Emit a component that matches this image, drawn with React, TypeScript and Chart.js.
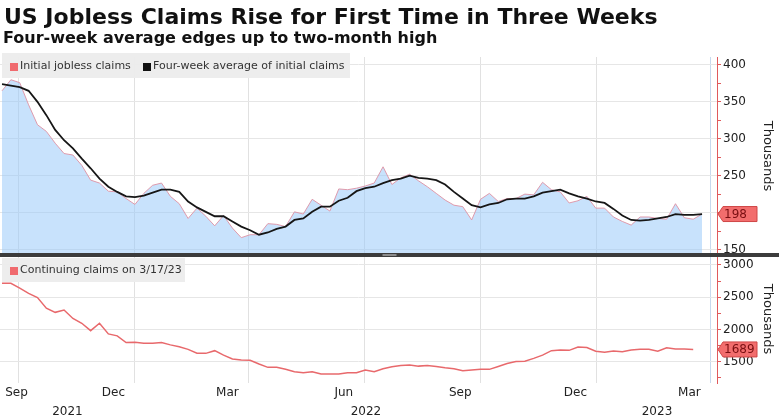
import React, { useEffect, useRef } from 'react';
import { Chart, registerables } from 'chart.js';

Chart.register(...registerables);

// ---------------- data ----------------
const START_DATE = '2021-09-18'; // first weekly observation (week ending)

const initialClaims = [
  365, 380, 376, 346, 319, 310, 294, 280, 278, 264,
  244, 240, 229, 228, 219, 211, 226, 237, 240, 222,
  212, 192, 206, 195, 182, 196, 179, 166, 170, 170,
  185, 184, 181, 201, 198, 218, 210, 202, 232, 231,
  233, 236, 240, 262, 238, 247, 252, 243, 235, 226,
  217, 210, 208, 190, 218, 226, 215, 219, 219, 225,
  224, 241, 231, 228, 213, 216, 222, 206, 206, 194,
  188, 183, 194, 194, 192, 191, 212, 193, 191, 198,
];

const fourWeekAvg = [
  374, 372, 370, 365, 350, 332, 312, 298, 287, 273,
  260, 246, 235, 228, 222, 221, 223, 227, 231, 231,
  228, 215, 207, 201, 195, 195, 188, 181, 176, 170,
  173, 178, 181, 190, 192, 201, 208, 208, 216, 220,
  229, 233, 235, 240, 244, 246, 250, 247, 246, 244,
  238, 228, 219, 210, 207, 211, 213, 218, 219, 219,
  222, 227, 229, 231, 226, 222, 219, 215, 213, 205,
  196, 190, 189, 190, 192, 194, 198, 197, 197, 198,
];

const continuingClaims = [
  2715, 2715, 2640, 2560, 2495, 2330, 2265, 2300, 2170, 2095,
  1980, 2095, 1930, 1900, 1795, 1800, 1785, 1785, 1795, 1760,
  1730, 1690, 1630, 1628, 1670, 1600, 1540, 1525, 1520, 1463,
  1411, 1411, 1380, 1344, 1328, 1344, 1307, 1307, 1307, 1328,
  1328, 1370, 1344, 1390, 1420, 1440, 1447, 1430, 1440, 1425,
  1405, 1390, 1360, 1370, 1380, 1380, 1425, 1470, 1500, 1505,
  1550, 1600, 1670, 1680, 1675, 1725, 1720, 1660, 1645, 1665,
  1654, 1680, 1690, 1690, 1660, 1715, 1695, 1696, 1689,
];

const monthTickDates = ['2021-09-15', '2021-12-15', '2022-03-15', '2022-06-15', '2022-09-15', '2022-12-15', '2023-03-15'];
const monthTickLabels = ['Sep', 'Dec', 'Mar', 'Jun', 'Sep', 'Dec', 'Mar'];
const gridDates = ['2021-10-01', '2022-01-01', '2022-04-01', '2022-07-01', '2022-10-01', '2023-01-01', '2023-04-01'];
const yearLabels = ['2021', '2022', '2023'];
const yearStartDates = ['2022-01-01', '2023-01-01'];

const topTickLabels = [150, 200, 250, 300, 350, 400];
const bottomTickLabels = [1500, 2000, 2500, 3000];

// ---------------- layout constants ----------------
const X_MIN = -1.6;
const X_MAX = 564.8;
const TOP_MIN = 142.5;
const TOP_MAX = 410.8;
const BOT_MIN = 1168;
const BOT_MAX = 3155;

const RED_AXIS = '#e05a5c';
const FONT = "'DejaVu Sans', sans-serif";

const DAY_MS = 86400000;
const dayOf = (s: string) =>
  Math.round((Date.parse(s + 'T00:00:00Z') - Date.parse(START_DATE + 'T00:00:00Z')) / DAY_MS);

const withMinor = (majors: number[], step: number, lo: number, hi: number) => {
  const out: number[] = [];
  for (let v = majors[0] - step; v <= majors[majors.length - 1] + step; v += step / 2) {
    if (v >= lo && v <= hi) out.push(v);
  }
  return out;
};

function drawTag(ctx: CanvasRenderingContext2D, x: number, y: number, text: string) {
  const h = 15;
  const right = x + 40;
  ctx.beginPath();
  ctx.moveTo(x + 1, y);
  ctx.lineTo(x + 6, y - h / 2);
  ctx.lineTo(right, y - h / 2);
  ctx.lineTo(right, y + h / 2);
  ctx.lineTo(x + 6, y + h / 2);
  ctx.closePath();
  ctx.fillStyle = '#f26d6d';
  ctx.fill();
  ctx.strokeStyle = '#cf4747';
  ctx.lineWidth = 1;
  ctx.stroke();
  ctx.fillStyle = '#7a0f12';
  ctx.font = `12px ${FONT}`;
  ctx.textAlign = 'left';
  ctx.textBaseline = 'middle';
  ctx.fillText(text, x + 7, y + 0.5);
}

const overlayPlugin = {
  id: 'overlayPlugin',
  afterDraw(chart: any) {
    const { ctx, chartArea } = chart;
    const yTop = chart.scales.yTop;
    const yBot = chart.scales.yBot;
    ctx.save();
    const yDiv = yTop.bottom;
    ctx.fillStyle = '#3c3c3c';
    ctx.fillRect(0, yDiv - 2, chart.width, 4);
    ctx.fillStyle = '#8c8c8c';
    ctx.fillRect(chart.width / 2 - 7, yDiv - 1, 14, 2);
    const lastAvg = fourWeekAvg[fourWeekAvg.length - 1];
    const lastCont = continuingClaims[continuingClaims.length - 1];
    drawTag(ctx, chartArea.right, yTop.getPixelForValue(lastAvg), String(lastAvg));
    drawTag(ctx, chartArea.right, yBot.getPixelForValue(lastCont), String(lastCont));
    ctx.restore();
  },
};

export default function App() {
  const ref = useRef<HTMLCanvasElement>(null);

  useEffect(() => {
    Chart.defaults.font.family = FONT;
    const toPts = (arr: number[]) => arr.map((v, i) => ({ x: i * 7, y: v }));
    const yearBounds = [X_MIN, ...yearStartDates.map(dayOf), X_MAX];

    const chart = new Chart(ref.current as HTMLCanvasElement, {
      type: 'line',
      data: {
        datasets: [
          {
            label: 'Four-week average of initial claims',
            data: toPts(fourWeekAvg),
            xAxisID: 'x',
            yAxisID: 'yTop',
            borderColor: '#161616',
            borderWidth: 1.8,
            pointRadius: 0,
            fill: false,
            order: 0,
          },
          {
            label: 'Initial jobless claims',
            data: toPts(initialClaims),
            xAxisID: 'x',
            yAxisID: 'yTop',
            borderColor: 'rgba(222,150,168,0.95)',
            borderWidth: 1,
            backgroundColor: 'rgba(150,200,250,0.52)',
            pointRadius: 0,
            fill: 'start',
            order: 2,
          },
          {
            label: 'Continuing claims on 3/17/23',
            data: toPts(continuingClaims),
            xAxisID: 'x',
            yAxisID: 'yBot',
            borderColor: '#e8696c',
            borderWidth: 1.5,
            pointRadius: 0,
            fill: false,
            order: 1,
          },
        ],
      },
      options: {
        animation: false,
        responsive: true,
        maintainAspectRatio: false,
        layout: { padding: { top: 57, left: 0, right: 0, bottom: 0 } },
        plugins: { legend: { display: false }, tooltip: { enabled: false } },
        events: [],
        scales: {
          x: {
            type: 'linear',
            position: 'bottom',
            weight: 0,
            min: X_MIN,
            max: X_MAX,
            afterBuildTicks: (s: any) => {
              s.ticks = gridDates.map((d) => ({ value: dayOf(d) }));
            },
            ticks: { display: false },
            grid: {
              color: (c: any) => (c.index === gridDates.length - 1 ? '#c7d9ee' : '#e1e1e1'),
              drawTicks: false,
            },
            border: { display: false },
            afterFit: (s: any) => {
              s.height = 0;
            },
          },
          xm: {
            type: 'linear',
            position: 'bottom',
            weight: 1,
            min: X_MIN,
            max: X_MAX,
            afterBuildTicks: (s: any) => {
              s.ticks = monthTickDates.map((d, i) => ({
                value: i === 0 ? Math.max(dayOf(d), X_MIN + 13) : dayOf(d),
              }));
            },
            ticks: {
              autoSkip: false,
              maxRotation: 0,
              padding: 3,
              color: '#222',
              font: { size: 12 },
              callback: (_v: any, i: number) => monthTickLabels[i] ?? '',
            },
            grid: { display: false, drawTicks: false },
            border: { display: false },
            afterFit: (s: any) => {
              s.height = 18;
            },
          },
          xy: {
            type: 'linear',
            position: 'bottom',
            weight: 2,
            min: X_MIN,
            max: X_MAX,
            afterBuildTicks: (s: any) => {
              s.ticks = yearLabels.map((_, i) => ({ value: (yearBounds[i] + yearBounds[i + 1]) / 2 }));
            },
            ticks: {
              autoSkip: false,
              maxRotation: 0,
              padding: 4,
              color: '#222',
              font: { size: 12 },
              callback: (_v: any, i: number) => yearLabels[i] ?? '',
            },
            grid: { display: false, drawTicks: false },
            border: { display: false },
            afterFit: (s: any) => {
              s.height = 19;
            },
          },
          yTop: {
            type: 'linear',
            position: 'right',
            stack: 'panels',
            stackWeight: 198,
            min: TOP_MIN,
            max: TOP_MAX,
            afterBuildTicks: (s: any) => {
              s.ticks = withMinor(topTickLabels, 50, TOP_MIN, TOP_MAX).map((v) => ({ value: v }));
            },
            ticks: {
              autoSkip: false,
              padding: 2,
              color: '#222',
              font: { size: 12 },
              callback: (v: any) => (topTickLabels.includes(v) ? String(v) : ''),
            },
            grid: {
              color: (c: any) => (c.tick && topTickLabels.includes(c.tick.value) ? '#e6e6e6' : 'rgba(0,0,0,0)'),
              tickColor: RED_AXIS,
              tickLength: 4,
              drawTicks: true,
            },
            border: { color: RED_AXIS, width: 1 },
            title: {
              display: true,
              text: 'Thousands',
              color: '#222',
              font: { size: 13 },
              padding: { top: 4, bottom: 0 },
            },
            afterFit: (s: any) => {
              s.width = 62;
            },
          },
          yBot: {
            type: 'linear',
            position: 'right',
            stack: 'panels',
            stackWeight: 128,
            min: BOT_MIN,
            max: BOT_MAX,
            afterBuildTicks: (s: any) => {
              s.ticks = withMinor(bottomTickLabels, 500, BOT_MIN, BOT_MAX).map((v) => ({ value: v }));
            },
            ticks: {
              autoSkip: false,
              padding: 2,
              color: '#222',
              font: { size: 12 },
              callback: (v: any) => (bottomTickLabels.includes(v) ? String(v) : ''),
            },
            grid: {
              color: (c: any) => (c.tick && bottomTickLabels.includes(c.tick.value) ? '#e6e6e6' : 'rgba(0,0,0,0)'),
              tickColor: RED_AXIS,
              tickLength: 4,
              drawTicks: true,
            },
            border: { color: RED_AXIS, width: 1 },
            title: {
              display: true,
              text: 'Thousands',
              color: '#222',
              font: { size: 13 },
              padding: { top: 4, bottom: 0 },
            },
            afterFit: (s: any) => {
              s.width = 62;
            },
          },
        },
      } as any,
      plugins: [overlayPlugin],
    } as any);
    return () => chart.destroy();
  }, []);

  const square = (left: number, top: number, color: string): React.CSSProperties => ({
    position: 'absolute',
    left,
    top,
    width: 8,
    height: 8,
    background: color,
  });
  const legendText = (left: number): React.CSSProperties => ({
    position: 'absolute',
    left,
    top: 0,
    lineHeight: '25px',
    fontSize: 11,
    color: '#333',
    whiteSpace: 'nowrap',
  });

  return (
    <div
      style={{
        position: 'fixed',
        left: 0,
        top: 0,
        width: 779,
        height: 420,
        background: '#ffffff',
        overflow: 'hidden',
        fontFamily: FONT,
      }}
    >
      <div style={{ position: 'absolute', left: 0, top: 0, width: 779, height: 420 }}>
        <canvas ref={ref} />
      </div>
      <div
        style={{
          position: 'absolute',
          left: 4,
          top: 6,
          fontSize: 22,
          lineHeight: '22px',
          fontWeight: 'bold',
          color: '#111',
          whiteSpace: 'nowrap',
        }}
      >
        US Jobless Claims Rise for First Time in Three Weeks
      </div>
      <div
        style={{
          position: 'absolute',
          left: 3,
          top: 30,
          fontSize: 16,
          lineHeight: '16px',
          fontWeight: 'bold',
          color: '#111',
          whiteSpace: 'nowrap',
        }}
      >
        Four-week average edges up to two-month high
      </div>
      <div
        style={{
          position: 'absolute',
          left: 2,
          top: 53,
          width: 348,
          height: 25,
          background: 'rgba(236,236,236,0.95)',
        }}
      >
        <div style={square(8, 10, '#f06a6e')} />
        <div style={legendText(18)}>Initial jobless claims</div>
        <div style={square(141, 10, '#111')} />
        <div style={legendText(151)}>Four-week average of initial claims</div>
      </div>
      <div
        style={{
          position: 'absolute',
          left: 2,
          top: 258,
          width: 183,
          height: 24,
          background: 'rgba(236,236,236,0.95)',
        }}
      >
        <div style={square(8, 9, '#f06a6e')} />
        <div style={{ ...legendText(18), lineHeight: '24px' }}>Continuing claims on 3/17/23</div>
      </div>
    </div>
  );
}
